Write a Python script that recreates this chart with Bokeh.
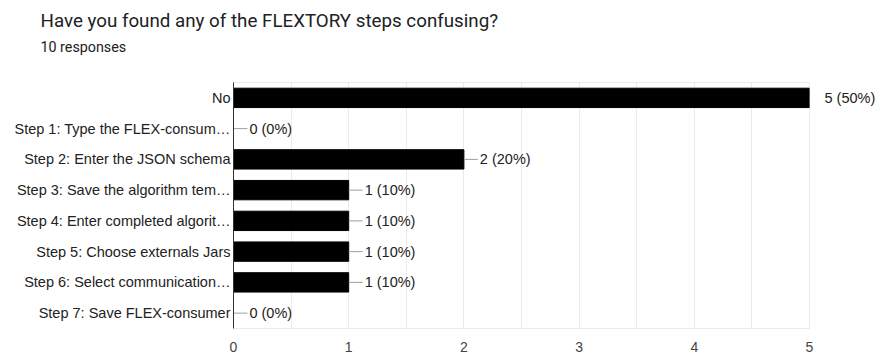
from bokeh.plotting import figure
from bokeh.models import (ColumnDataSource, Range1d, Label, Title,
                          SingleIntervalTicker, FixedTicker, LinearAxis)
from bokeh.embed import file_html
from bokeh.resources import INLINE

categories = [
    "No",
    "Step 1: Type the FLEX-consum…",
    "Step 2: Enter the JSON schema",
    "Step 3: Save the algorithm tem…",
    "Step 4: Enter completed algorit…",
    "Step 5: Choose externals Jars",
    "Step 6: Select communication…",
    "Step 7: Save FLEX-consumer",
]
counts = [5, 0, 2, 1, 1, 1, 1, 0]
total_responses = 10
title_text = "Have you found any of the FLEXTORY steps confusing?"
subtitle_text = "10 responses"
x_ticks = [0, 1, 2, 3, 4, 5]
x_max = 5

TITLE_FONT = "Roboto"
FONT = "Liberation Sans"
LSIZE = "14.5px"
W, H = 878, 354
FL, FR, FB = 233, 811, 330
px_per_unit = (FR - FL) / x_max

n = len(categories)
ypos = [n - i - 0.5 for i in range(n)]          # first category on top
labels = [f"{c} ({round(100 * c / total_responses)}%)" for c in counts]
line_end = [c + 14 / px_per_unit for c in counts]
label_x = [c + 16 / px_per_unit for c in counts]

src = ColumnDataSource(dict(y=ypos, val=counts, x0=counts, x1=line_end))

p = figure(width=W, height=H, output_backend="svg", toolbar_location=None,
           y_range=Range1d(0, n), x_range=Range1d(0, x_max),
           y_axis_location=None,
           min_border_left=FL, min_border_right=W - FR,
           min_border_top=0, min_border_bottom=H - FB)

p.hbar(y="y", right="val", left=0, height=0.63, source=src,
       fill_color="#000000", line_color="#000000")
p.segment(x0="x0", y0="y", x1="x1", y1="y", source=src,
          line_color="#9e9e9e", line_width=1)

# category axis on the left
lax = LinearAxis(ticker=FixedTicker(ticks=ypos),
                 major_label_overrides=dict(zip(ypos, categories)),
                 axis_line_color="#333333", major_tick_line_color=None,
                 minor_tick_line_color=None, major_tick_out=0, major_tick_in=0,
                 minor_tick_out=0, minor_tick_in=0, major_label_standoff=3,
                 major_label_text_font=FONT, major_label_text_font_size=LSIZE,
                 major_label_text_color="#222222")
p.add_layout(lax, "left")

# value labels inside the frame; the ones past its right edge go on a right axis
out_ticks, out_labels = [], {}
for y, c, lx, lab in zip(ypos, counts, label_x, labels):
    if c < x_max:
        p.add_layout(Label(x=lx, y=y, text=lab,
                           text_font=FONT, text_font_size=LSIZE, text_color="#222222",
                           text_baseline="middle", text_align="left"))
    else:
        out_ticks.append(y)
        out_labels[y] = lab

rax = LinearAxis(ticker=FixedTicker(ticks=out_ticks),
                 major_label_overrides=out_labels,
                 axis_line_color=None, major_tick_line_color=None,
                 minor_tick_line_color=None, major_tick_out=0, major_tick_in=0,
                 minor_tick_out=0, minor_tick_in=0,
                 major_label_standoff=15, major_label_text_font=FONT,
                 major_label_text_font_size=LSIZE,
                 major_label_text_color="#222222")
p.add_layout(rax, "right")

p.title.visible = False
p.outline_line_color = "#ebebeb"

p.xaxis.ticker = FixedTicker(ticks=x_ticks)
p.xaxis.axis_line_color = None
p.xaxis.major_tick_line_color = None
p.xaxis.minor_tick_line_color = None
p.xaxis.major_label_text_font = FONT
p.xaxis.major_label_text_font_size = "14px"
p.xaxis.major_label_text_color = "#444444"
p.xaxis.major_label_standoff = 7

p.ygrid.grid_line_color = None
p.xgrid.ticker = SingleIntervalTicker(interval=0.5)
p.xgrid.grid_line_color = "#ebebeb"

# header panels, stacked from the frame outward
p.add_layout(Title(text=" ", text_font_size="1px", standoff=18), "above")
p.add_layout(Title(text=subtitle_text, text_font=TITLE_FONT, text_font_size="14.3px",
                   text_color="#202124", text_font_style="normal", align="left",
                   offset=40 - FL, standoff=14), "above")
p.add_layout(Title(text=title_text, text_font=TITLE_FONT, text_font_size="18.75px",
                   text_color="#202124", text_font_style="normal", align="left",
                   offset=40 - FL, standoff=-5), "above")
p.add_layout(Title(text=" ", text_font_size="1px", standoff=7), "above")

p.background_fill_color = "white"
p.border_fill_color = "white"

open("out.html", "w").write(file_html(p, INLINE))
